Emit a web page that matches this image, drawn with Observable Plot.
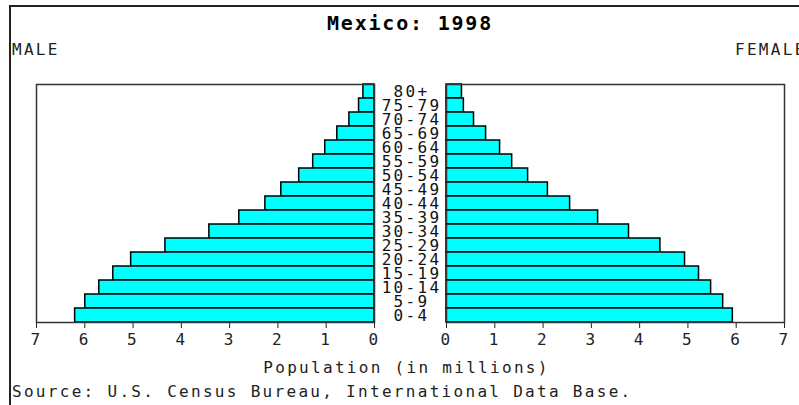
<!DOCTYPE html>
<html>
<head>
<meta charset="utf-8">
<script src="https://cdn.jsdelivr.net/npm/d3@7"></script>
<script src="https://cdn.jsdelivr.net/npm/@observablehq/plot@0.6"></script>
<style>
  html, body { margin: 0; padding: 0; background: #fff; }
  #wrap { position: relative; width: 799px; height: 405px; overflow: hidden; background: #fff;
          font-family: "DejaVu Sans Mono", monospace; color: #222; }
  #border { position: absolute; left: 9px; top: 5px; right: -5px; bottom: -5px;
            border-left: 2px solid #222; border-top: 2px solid #222; }
  .txt { position: absolute; white-space: nowrap; font-size: 16px; letter-spacing: 2.3px; line-height: 1; }
  #title { left: 0; width: 820px; text-align: center; top: 13px; font-size: 20px; font-weight: bold; letter-spacing: 1.8px; color: #000; }
  .plot { position: absolute; top: 60px; }
  .plot svg { overflow: visible; background: transparent !important; }
  .plot svg text { letter-spacing: 2.3px; }
</style>
</head>
<body>
<div id="wrap">
  <div id="border"></div>
  <div class="txt" id="title">Mexico: 1998</div>
  <div class="txt" style="left:12px; top:42px;">MALE</div>
  <div class="txt" style="left:735px; top:42px;">FEMALE</div>
  <div id="left" class="plot" style="left:0px;"></div>
  <div id="right" class="plot" style="left:374px;"></div>
  <div class="txt" style="left:0; width:813px; text-align:center; top:360px;">Population (in millions)</div>
  <div class="txt" style="left:12px; top:384px;">Source: U.S. Census Bureau, International Data Base.</div>
</div>
<script>
const ages = ["80+","75-79","70-74","65-69","60-64","55-59","50-54","45-49","40-44","35-39","30-34","25-29","20-24","15-19","10-14","5-9","0-4"];
const male = [0.23,0.32,0.52,0.77,1.02,1.27,1.56,1.93,2.26,2.80,3.42,4.33,5.04,5.41,5.70,5.99,6.20];
const female = [0.32,0.36,0.57,0.82,1.11,1.36,1.69,2.10,2.56,3.14,3.78,4.43,4.94,5.23,5.48,5.73,5.93];
const xTicks = [0,1,2,3,4,5,6,7];

const rows = ages.map((a, i) => ({age: a, male: male[i], female: female[i]}));

const common = {
  height: 300,
  marginTop: 24,
  marginBottom: 38,
  style: {fontFamily: "DejaVu Sans Mono, monospace", fontSize: "16px", color: "#222", background: "transparent", overflow: "visible"},
  y: {domain: ages, padding: 0, axis: null},
};

const leftPlot = Plot.plot({
  ...common,
  width: 410,
  marginLeft: 36,
  marginRight: 36,
  x: {domain: [0, 7], reverse: true, ticks: xTicks, tickFormat: "d", tickSize: 6, tickPadding: 5, label: null},
  marks: [
    Plot.barX(rows, {x: "male", y: "age", fill: "#00FFFF", stroke: "#000", strokeWidth: 1.5}),
    Plot.frame({stroke: "#333", strokeWidth: 1.5})
  ]
});
document.getElementById("left").appendChild(leftPlot);

const rightPlot = Plot.plot({
  ...common,
  width: 425,
  marginLeft: 72,
  marginRight: 15,
  x: {domain: [0, 7], ticks: xTicks, tickFormat: "d", tickSize: 6, tickPadding: 5, label: null},
  marks: [
    Plot.barX(rows, {x: "female", y: "age", fill: "#00FFFF", stroke: "#000", strokeWidth: 1.5}),
    Plot.frame({stroke: "#333", strokeWidth: 1.5}),
    Plot.text(rows, {x: 0, y: "age", text: "age", dx: -35, textAnchor: "middle", fontSize: 16, fill: "#111"})
  ]
});
document.getElementById("right").appendChild(rightPlot);
</script>
</body>
</html>
